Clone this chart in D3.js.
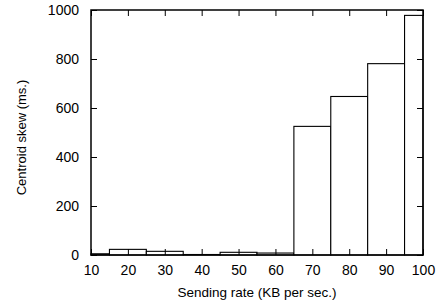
<!DOCTYPE html>
<html>
<head>
<meta charset="utf-8">
<script src="https://cdn.jsdelivr.net/npm/d3@7"></script>
<style>
  body { margin: 0; background: #fff; }
  text { font-family: "Liberation Sans", Arial, sans-serif; fill: #000; }
</style>
</head>
<body>
<svg width="438" height="303"></svg>
<script>
// bins of sending rate (KB/s) and centroid skew (ms)
const binStart = [10, 15, 25, 35, 45, 55, 65, 75, 85, 95];
const binEnd   = [15, 25, 35, 45, 55, 65, 75, 85, 95, 100];
const skew     = [5, 23, 15, 2, 11, 8, 525, 647, 781, 978];

const xTicks = [10, 20, 30, 40, 50, 60, 70, 80, 90, 100];
const yTicks = [0, 200, 400, 600, 800, 1000];

const svg = d3.select('svg');
const margin = {top: 10, right: 15, bottom: 48, left: 91};
const width = 438 - margin.left - margin.right;
const height = 303 - margin.top - margin.bottom;

const x = d3.scaleLinear().domain([10, 100]).range([0, width]);
const y = d3.scaleLinear().domain([0, 1000]).range([height, 0]);

const g = svg.append('g')
    .attr('transform', `translate(${margin.left},${margin.top})`);

// bars
g.append('g')
  .selectAll('rect')
  .data(skew)
  .join('rect')
    .attr('x', (d, i) => x(binStart[i]))
    .attr('width', (d, i) => x(binEnd[i]) - x(binStart[i]))
    .attr('y', d => y(d))
    .attr('height', d => y(0) - y(d))
    .attr('fill', '#fff')
    .attr('stroke', '#000')
    .attr('stroke-width', 1.1);

// axes, ticks pointing inward
const tickLen = 6;
const axBottom = g.append('g')
    .attr('transform', `translate(0,${height})`)
    .call(d3.axisBottom(x).tickValues(xTicks).tickSizeInner(-tickLen).tickSizeOuter(0).tickPadding(10));
const axLeft = g.append('g')
    .call(d3.axisLeft(y).tickValues(yTicks).tickFormat(d3.format('d'))
      .tickSizeInner(-tickLen).tickSizeOuter(0).tickPadding(12));
const axTop = g.append('g')
    .call(d3.axisTop(x).tickValues(xTicks).tickSizeInner(-tickLen).tickSizeOuter(0).tickFormat(''));
const axRight = g.append('g')
    .attr('transform', `translate(${width},0)`)
    .call(d3.axisRight(y).tickValues(yTicks).tickSizeInner(-tickLen).tickSizeOuter(0).tickFormat(''));

[axBottom, axLeft, axTop, axRight].forEach(a => {
  a.select('.domain').remove();
  a.selectAll('line').attr('stroke', '#000');
  a.selectAll('text').attr('font-size', 14).attr('font-family', '"Liberation Sans", Arial, sans-serif');
});

// frame
g.append('rect')
    .attr('width', width)
    .attr('height', height)
    .attr('fill', 'none')
    .attr('stroke', '#000')
    .attr('stroke-width', 1.5);

// titles
svg.append('text')
    .attr('x', margin.left + width / 2)
    .attr('y', 297)
    .attr('text-anchor', 'middle')
    .attr('font-size', 13.5)
    .text('Sending rate (KB per sec.)');

svg.append('text')
    .attr('transform', `translate(26,${margin.top + height / 2 + 5}) rotate(-90)`)
    .attr('text-anchor', 'middle')
    .attr('font-size', 13)
    .text('Centroid skew (ms.)');
</script>
</body>
</html>
